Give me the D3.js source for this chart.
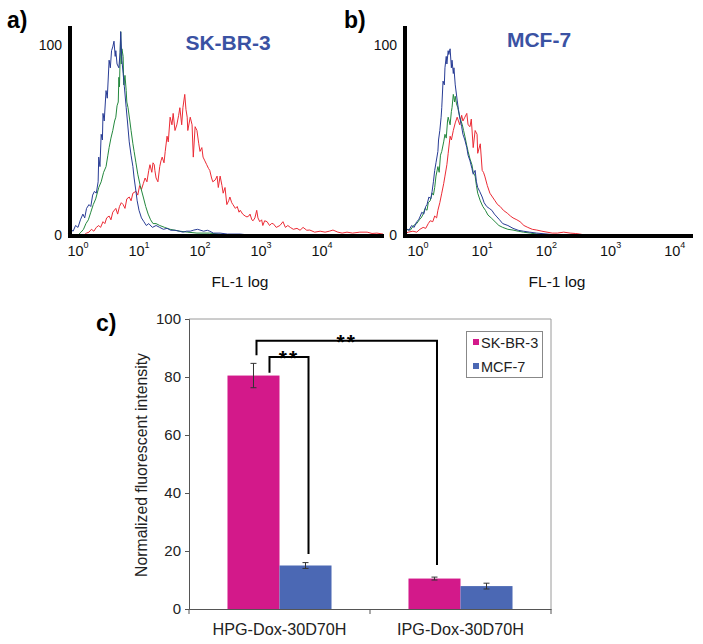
<!DOCTYPE html>
<html>
<head>
<meta charset="utf-8">
<script src="https://cdnjs.cloudflare.com/ajax/libs/d3/7.8.5/d3.min.js"></script>
<style>
  body { margin: 0; background: #fff; }
  svg { display: block; }
  text { font-family: "Liberation Sans", Arial, sans-serif; }
</style>
</head>
<body>
<svg id="chart" width="703" height="644"></svg>
<script>
// ---- flow cytometry histograms: [log10(FL-1), counts] ----
var aBlue = [[-0.16,1],[-0.12,3],[-0.08,2],[-0.04,5],[0.0,4],[0.04,8],[0.08,11],[0.11,9],[0.14,14],[0.18,16],[0.21,15],[0.24,21],[0.27,23],[0.30,22],[0.33,28],[0.34,41],[0.36,36],[0.38,53],[0.40,50],[0.41,64],[0.43,60],[0.46,76],[0.48,72],[0.51,92],[0.53,88],[0.55,97],[0.57,99],[0.59,102],[0.61,94],[0.62,97],[0.64,90],[0.67,88],[0.69,96],[0.70,107],[0.72,92],[0.74,85],[0.76,78],[0.79,67],[0.81,60],[0.84,49],[0.87,42],[0.90,36],[0.92,30],[0.95,23],[0.97,18],[1.00,13],[1.04,9],[1.08,7],[1.12,5],[1.16,6],[1.22,4],[1.28,5],[1.34,4],[1.40,3],[1.46,3.5],[1.52,2.5],[1.59,2.5],[1.66,2],[1.72,1.5],[1.78,2],[1.84,2],[1.90,2.6],[1.96,3],[2.00,2.6],[2.06,2],[2.12,2.5],[2.16,2],[2.22,1],[2.33,1],[2.45,0.5],[2.66,0.5],[2.8,0]];
var aGreen = [[0.0,0],[0.05,1.5],[0.09,3],[0.13,6],[0.17,8],[0.21,12],[0.25,16],[0.29,19],[0.34,25],[0.38,28],[0.42,33],[0.46,36],[0.49,42],[0.51,46],[0.54,51],[0.57,55],[0.60,60],[0.62,62],[0.64,68],[0.66,70],[0.67,83],[0.68,78],[0.70,107],[0.71,90],[0.72,98],[0.74,94],[0.75,79],[0.77,84],[0.79,76],[0.80,70],[0.82,67],[0.85,60],[0.87,55],[0.90,48],[0.92,44],[0.95,38],[0.98,32],[1.02,26],[1.07,20],[1.11,15],[1.15,11],[1.19,8],[1.23,6],[1.28,6],[1.34,5],[1.42,4],[1.51,3],[1.59,2.5],[1.67,2],[1.8,1.5],[1.95,1],[2.16,1],[2.3,0.5],[2.49,0]];
var aRed = [[0.10,0],[0.14,1],[0.18,1.5],[0.22,3],[0.26,2],[0.30,4],[0.34,5],[0.37,4],[0.41,7],[0.44,6],[0.47,9],[0.51,10],[0.54,8],[0.57,12],[0.62,14],[0.65,11],[0.68,15],[0.71,17],[0.74,16],[0.77,14],[0.80,19],[0.84,20],[0.87,18],[0.90,22],[0.95,23],[0.98,21],[1.01,26],[1.04,24],[1.07,27],[1.10,30],[1.13,28],[1.16,34],[1.18,37],[1.21,33],[1.23,38],[1.25,37],[1.26,34],[1.28,30],[1.31,28],[1.34,36],[1.36,39],[1.38,41],[1.41,38],[1.43,44],[1.46,52],[1.48,49],[1.51,62],[1.54,58],[1.56,64],[1.59,55],[1.62,58],[1.65,63],[1.67,67],[1.70,58],[1.72,67],[1.75,74],[1.77,66],[1.79,62],[1.80,55],[1.84,62],[1.87,58],[1.89,41],[1.92,57],[1.95,55],[1.98,48],[2.00,44],[2.03,46],[2.05,41],[2.08,39],[2.11,37],[2.14,35],[2.16,34],[2.19,30],[2.21,28],[2.25,29],[2.28,31],[2.30,25],[2.33,31],[2.36,26],[2.38,22],[2.41,25],[2.44,16],[2.47,18],[2.49,20],[2.52,17],[2.54,16],[2.58,14],[2.61,15],[2.64,12],[2.66,13],[2.70,11],[2.74,10],[2.77,9.5],[2.80,10],[2.82,11],[2.85,8],[2.87,7.5],[2.90,9],[2.93,13],[2.95,9],[2.98,7],[3.01,8],[3.03,5],[3.06,7.5],[3.10,7],[3.14,5],[3.17,6],[3.20,6],[3.25,4],[3.31,5],[3.36,7],[3.40,4],[3.44,5],[3.48,4],[3.53,3],[3.59,3.5],[3.64,2.5],[3.69,4],[3.75,2.5],[3.80,2.6],[3.88,1.5],[3.97,2],[4.05,1.5],[4.12,2],[4.18,2.6],[4.26,1.5],[4.33,1],[4.41,1.5],[4.50,1],[4.62,1.5],[4.74,1.5],[4.82,0.8],[4.90,1],[5.0,0.5]];

var bBlue = [[-0.22,1.5],[-0.18,3],[-0.14,2.5],[-0.10,5],[-0.06,4],[-0.02,7],[0.01,8],[0.03,9.5],[0.06,12],[0.09,11],[0.12,15],[0.14,16],[0.17,20],[0.20,19],[0.22,23],[0.24,28],[0.26,34],[0.28,38],[0.31,44],[0.32,50],[0.34,55],[0.36,62],[0.37,67],[0.39,81],[0.41,79],[0.42,88],[0.44,94],[0.45,90],[0.47,97],[0.48,95],[0.50,98],[0.52,88],[0.53,92],[0.55,85],[0.56,88],[0.58,79],[0.61,71],[0.63,66],[0.65,62],[0.68,57],[0.70,53],[0.73,50],[0.76,46],[0.78,42],[0.81,39],[0.84,35],[0.86,32],[0.89,34],[0.91,28],[0.93,25],[0.96,23],[1.00,20],[1.03,17],[1.07,15],[1.11,14],[1.15,13],[1.19,11],[1.23,9.5],[1.27,8],[1.32,6],[1.40,5],[1.48,3.5],[1.56,2.5],[1.64,2],[1.74,1.5],[1.85,1],[2.01,0.5],[2.15,0]];
var bGreen = [[-0.22,1],[-0.17,3],[-0.12,2.5],[-0.07,5],[-0.02,6],[0.02,8],[0.05,9],[0.08,11],[0.11,14],[0.14,13],[0.16,17],[0.19,18],[0.22,22],[0.24,21],[0.26,25],[0.28,31],[0.31,36],[0.33,33],[0.35,42],[0.37,44],[0.40,49],[0.42,53],[0.44,51],[0.46,60],[0.47,62],[0.50,58],[0.52,65],[0.53,67],[0.55,74],[0.57,70],[0.58,73],[0.60,69],[0.62,67],[0.65,62],[0.69,58],[0.71,55],[0.73,52],[0.76,47],[0.78,44],[0.81,40],[0.84,37],[0.86,33],[0.89,31],[0.91,26],[0.93,22],[0.97,18],[1.01,15],[1.05,13],[1.09,10.5],[1.14,9],[1.20,7],[1.26,5],[1.32,4],[1.40,3],[1.48,2.6],[1.56,2],[1.64,1.5],[1.75,1],[1.85,0.5],[2.0,0]];
var bRed = [[-0.22,0.5],[-0.15,1.5],[-0.08,2],[-0.02,1.5],[0.03,3],[0.08,4],[0.12,3.5],[0.16,6],[0.19,7.5],[0.23,7],[0.26,10],[0.29,9],[0.31,13],[0.34,17],[0.37,22],[0.40,27],[0.42,31],[0.45,37],[0.47,43],[0.50,52],[0.52,50],[0.55,55],[0.58,59],[0.61,62],[0.63,60],[0.65,58],[0.68,63],[0.70,60],[0.73,62],[0.76,64],[0.78,58],[0.81,57],[0.83,61],[0.86,46],[0.89,55],[0.92,53],[0.93,43],[0.97,48],[1.00,34],[1.02,33],[1.04,31],[1.08,26],[1.12,22],[1.16,20],[1.20,18],[1.24,16],[1.28,15],[1.33,13],[1.39,11.5],[1.44,10],[1.48,9],[1.54,8],[1.59,7],[1.65,5],[1.71,4],[1.78,3],[1.85,2.6],[1.93,2],[2.01,1.5],[2.09,1],[2.17,1],[2.27,1.5],[2.37,1],[2.45,0.8],[2.52,0.5],[2.6,0]];

var logTicks = [0, 1, 2, 3, 4];
var countTicks = [0, 100];

// ---- bar chart ----
var categories = ['HPG-Dox-30D70H', 'IPG-Dox-30D70H'];
var series = ['SK-BR-3', 'MCF-7'];
var means = [[80.5, 15.0], [10.5, 7.9]];
var errors = [[4.2, 1.0], [0.5, 1.0]];
var barTicks = [0, 20, 40, 60, 80, 100];
var brackets = [
    { from: [0, 0], to: [1, 0], top: 92.5, fromEnd: 87.5, toEnd: 15.2, label: '**' },
    { from: [0, 0], to: [0, 1], top: 86.9, fromEnd: 81.5, toEnd: 19.0, label: '**' }
];

var histColors = { red: '#ec2b35', green: '#24883e', blue: '#283c95' };
var barColors = ['#d3198a', '#4b68b4'];
var font = '"Liberation Sans", Arial, sans-serif';

var svg = d3.select('#chart');
svg.append('rect').attr('width', 703).attr('height', 644).attr('fill', '#fff');

function drawHist(p) {
    var g = svg.append('g');
    var x = d3.scaleLog().domain([1, 1e4]).range(p.xr);
    var y = d3.scaleLinear().domain([0, 100]).range([235, 45]);
    var line = d3.line()
        .x(function (d) { return x(Math.pow(10, d[0])); })
        .y(function (d) { return y(d[1]); });

    [['red', p.red], ['green', p.green], ['blue', p.blue]].forEach(function (s) {
        g.append('path').datum(s[1])
            .attr('d', line)
            .attr('fill', 'none')
            .attr('stroke', histColors[s[0]])
            .attr('stroke-width', 1);
    });

    // thick axes
    g.append('line').attr('x1', p.x0).attr('x2', p.x0).attr('y1', 26).attr('y2', 238)
        .attr('stroke', '#000').attr('stroke-width', 4);
    g.append('line').attr('x1', p.x0 - 2).attr('x2', p.x1).attr('y1', 236).attr('y2', 236)
        .attr('stroke', '#000').attr('stroke-width', 4);

    // count labels
    g.selectAll('.cnt').data(countTicks).enter().append('text')
        .attr('x', p.x0 - 8).attr('y', function (d) { return y(d) + 5; })
        .attr('text-anchor', 'end').attr('font-size', 14).attr('fill', '#111')
        .text(function (d) { return d; });

    // decade labels
    var tl = g.selectAll('.dec').data(logTicks).enter().append('text')
        .attr('x', function (d) { return x(Math.pow(10, d)); })
        .attr('y', 256)
        .attr('text-anchor', 'middle').attr('font-size', 14.5).attr('fill', '#111');
    tl.append('tspan').text('10');
    tl.append('tspan').attr('font-size', 9).attr('dy', -8).text(function (d) { return d; });

    g.append('text').attr('x', p.labelX).attr('y', 287).attr('text-anchor', 'middle')
        .attr('font-size', 15.5).attr('fill', '#111').text('FL-1 log');
    g.append('text').attr('x', p.titleX).attr('y', p.titleY).attr('text-anchor', 'middle')
        .attr('font-size', 21).attr('font-weight', 'bold').attr('fill', '#3a52a3').text(p.title);
    g.append('text').attr('x', p.tagX).attr('y', 28)
        .attr('font-size', 23).attr('font-weight', 'bold').attr('fill', '#000').text(p.tag);
}

drawHist({ red: aRed, green: aGreen, blue: aBlue, xr: [78, 322], x0: 70, x1: 384,
    labelX: 240, title: 'SK-BR-3', titleX: 228, titleY: 50, tag: 'a)', tagX: 7 });
drawHist({ red: bRed, green: bGreen, blue: bBlue, xr: [418, 674.8], x0: 405, x1: 693,
    labelX: 557, title: 'MCF-7', titleX: 539, titleY: 47, tag: 'b)', tagX: 344 });

// ---- panel c ----
var c = svg.append('g');
var y = d3.scaleLinear().domain([0, 100]).range([609, 319]);
var x0 = d3.scaleBand().domain(categories).range([189, 551]);
var x1 = d3.scaleBand().domain(series).range([0, x0.bandwidth()]).paddingOuter(0.74);

function barCenter(ci, si) {
    return x0(categories[ci]) + x1(series[si]) + x1.bandwidth() / 2;
}

// frame
c.append('path').attr('d', 'M189,319H551V609').attr('fill', 'none').attr('stroke', '#9a9a9a');

categories.forEach(function (cat, ci) {
    series.forEach(function (s, si) {
        var v = means[ci][si], e = errors[ci][si];
        c.append('rect')
            .attr('x', x0(cat) + x1(s)).attr('width', x1.bandwidth())
            .attr('y', y(v)).attr('height', y(0) - y(v))
            .attr('fill', barColors[si]);
        var cx = barCenter(ci, si);
        var eb = c.append('g').attr('stroke', '#333').attr('stroke-width', 1);
        eb.append('line').attr('x1', cx).attr('x2', cx).attr('y1', y(v + e)).attr('y2', y(v - e));
        eb.append('line').attr('x1', cx - 3).attr('x2', cx + 3).attr('y1', y(v + e)).attr('y2', y(v + e));
        eb.append('line').attr('x1', cx - 3).attr('x2', cx + 3).attr('y1', y(v - e)).attr('y2', y(v - e));
    });
});

var yAxis = c.append('g').attr('transform', 'translate(189,0)')
    .call(d3.axisLeft(y).tickValues(barTicks).tickSize(4).tickPadding(4));
yAxis.select('.domain').attr('stroke', '#555');
yAxis.selectAll('.tick line').attr('stroke', '#555');
yAxis.selectAll('text').attr('font-size', 15).attr('font-family', font).attr('fill', '#222');

var xAxis = c.append('g').attr('transform', 'translate(0,609)')
    .call(d3.axisBottom(x0).tickSize(0).tickPadding(14));
xAxis.select('.domain').attr('stroke', '#555');
xAxis.selectAll('text').attr('font-size', 16.2).attr('font-family', font).attr('fill', '#222');
c.selectAll('.edge').data(x0.range().concat([x0(categories[1])])).enter().append('line')
    .attr('x1', function (d) { return d; }).attr('x2', function (d) { return d; })
    .attr('y1', 609).attr('y2', 614).attr('stroke', '#555');

c.append('text').attr('transform', 'rotate(-90)')
    .attr('x', -(y(0) + y(100)) / 2 - 1).attr('y', 147)
    .attr('text-anchor', 'middle').attr('font-size', 15.8).attr('fill', '#222')
    .text('Normalized fluorescent intensity');

// significance brackets
var nudge = [[3, 2.5], [16, 3]];
brackets.forEach(function (b, i) {
    var xa = barCenter(b.from[0], b.from[1]) + nudge[i][0];
    var xb = barCenter(b.to[0], b.to[1]) + nudge[i][1];
    c.append('path')
        .attr('d', 'M' + xa + ',' + y(b.fromEnd) + 'V' + y(b.top) + 'H' + xb + 'V' + y(b.toEnd))
        .attr('fill', 'none').attr('stroke', '#000').attr('stroke-width', 2);
    c.append('text').attr('x', (xa + xb) / 2).attr('y', y(b.top) + 8)
        .attr('text-anchor', 'middle').attr('font-size', 21).attr('font-weight', 'bold')
        .attr('letter-spacing', 2).text(b.label);
});

// legend
var lg = c.append('g');
lg.append('rect').attr('x', 466.5).attr('y', 331.5).attr('width', 76).attr('height', 46)
    .attr('fill', '#fff').attr('stroke', '#888');
series.forEach(function (s, i) {
    lg.append('rect').attr('x', 473).attr('y', 339 + i * 24).attr('width', 6).attr('height', 6)
        .attr('fill', barColors[i]);
    lg.append('text').attr('x', 481).attr('y', 348 + i * 24).attr('font-size', 14.5)
        .attr('fill', '#222').text(s);
});

c.append('text').attr('x', 96).attr('y', 331).attr('font-size', 23).attr('font-weight', 'bold')
    .text('c)');
</script>
</body>
</html>
